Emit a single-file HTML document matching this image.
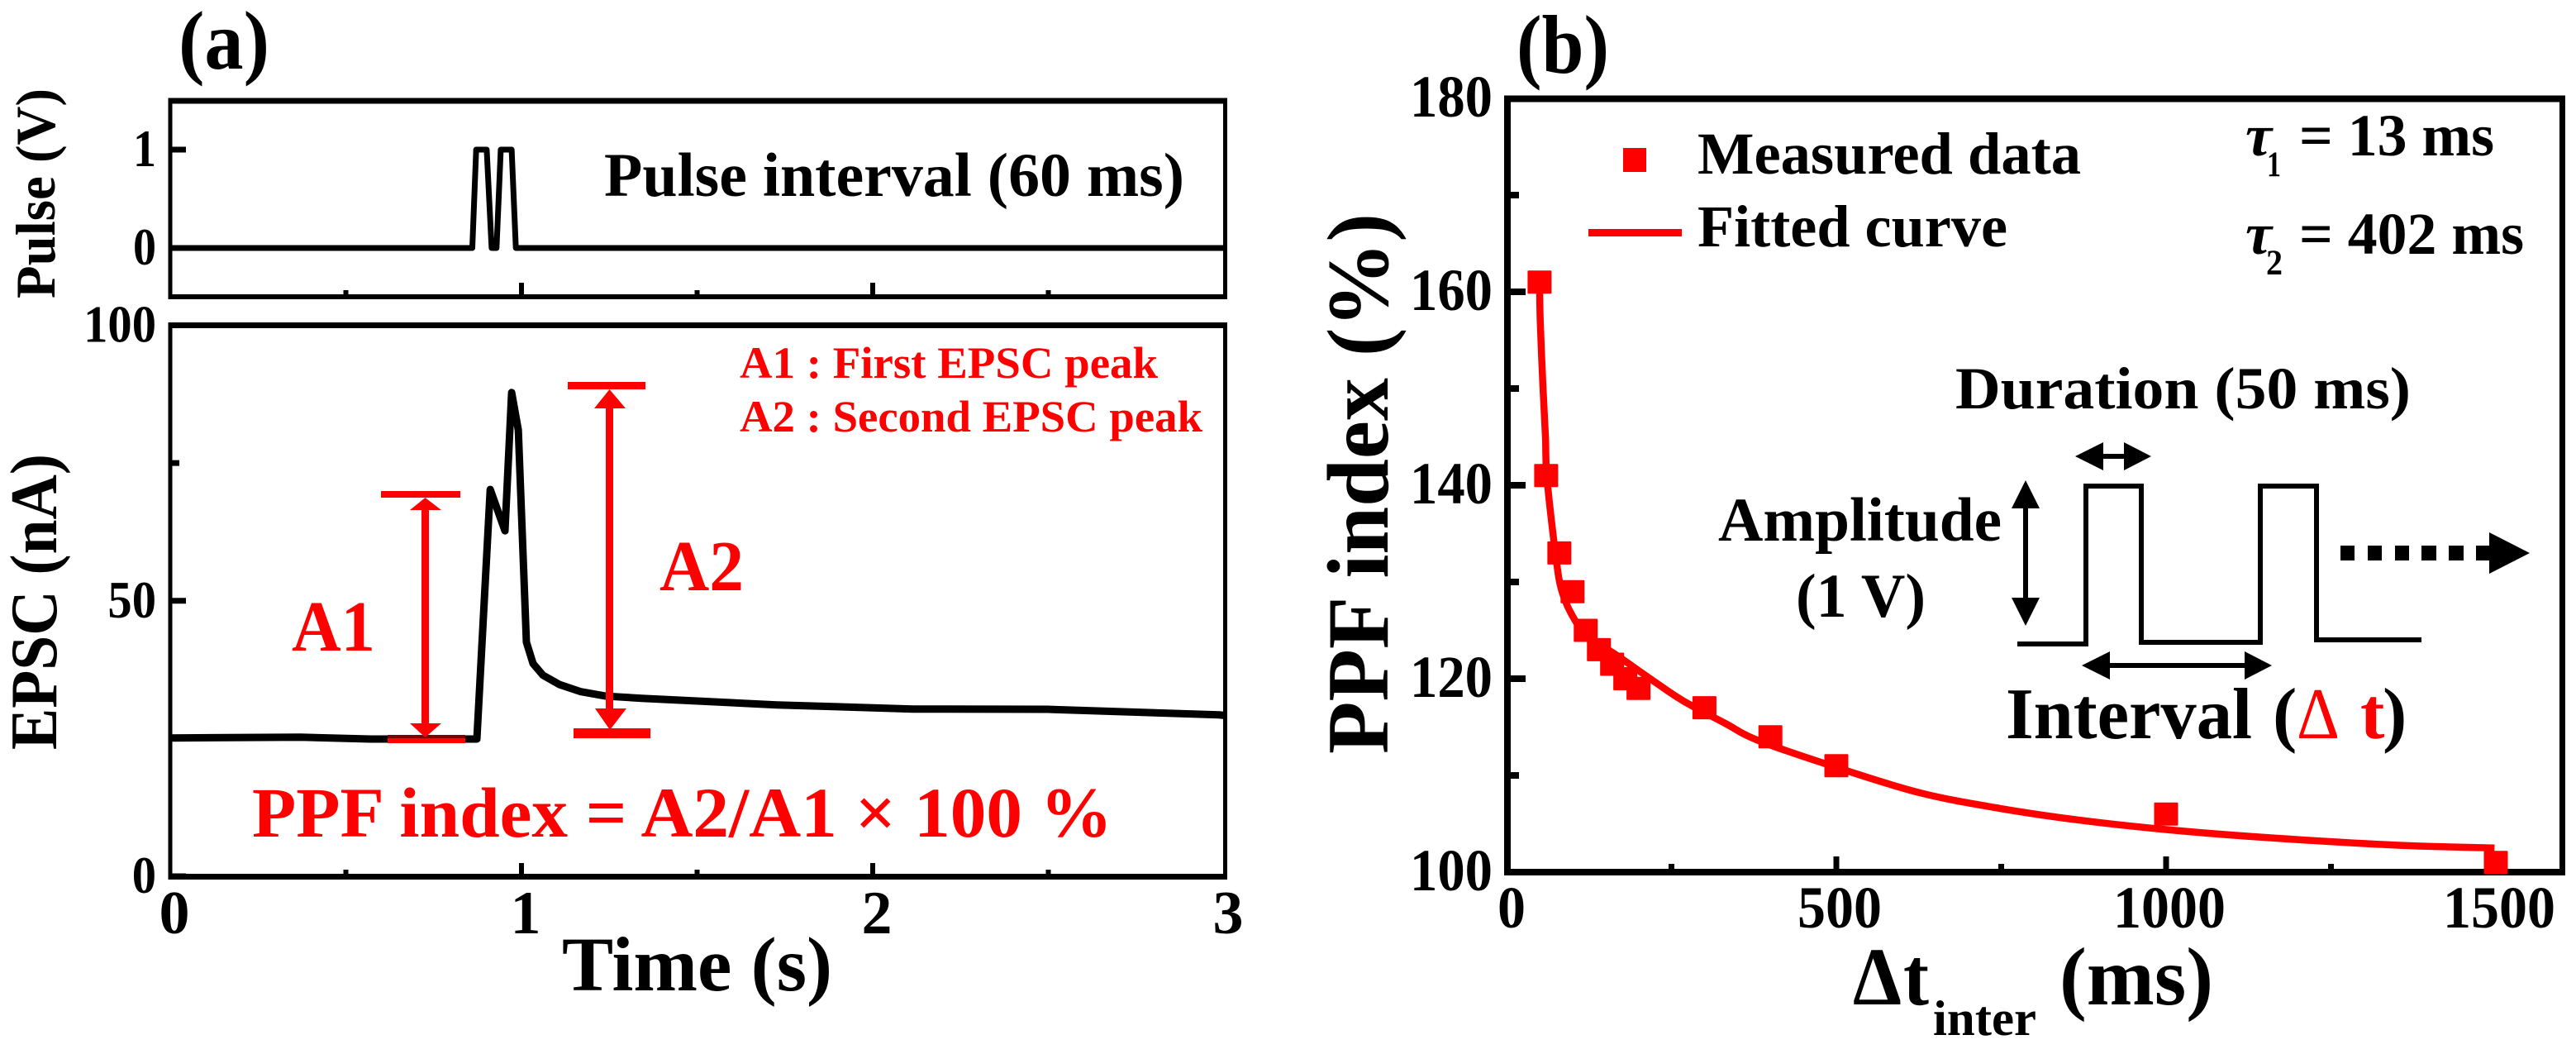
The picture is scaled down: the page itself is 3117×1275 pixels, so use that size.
<!DOCTYPE html>
<html lang="en">
<head>
<meta charset="utf-8">
<title>EPSC and PPF index chart</title>
<style>
html,body{margin:0;padding:0;background:#fff;}
svg{display:block;}
text{font-family:"Liberation Serif","DejaVu Serif",serif;font-weight:bold;fill:#000;}
.red{fill:#f00;}
</style>
</head>
<body>
<svg id="fig" xmlns="http://www.w3.org/2000/svg" width="3117" height="1275" viewBox="0 0 3117 1275">
  <rect x="0" y="0" width="3117" height="1275" fill="#fff"/>

  <text x="216" y="83" font-size="101" textLength="110" lengthAdjust="spacingAndGlyphs">(a)</text>
  <text x="1835" y="88" font-size="101" textLength="112" lengthAdjust="spacingAndGlyphs">(b)</text>

  <g id="panelA"></g>
  <g id="panelB"></g>

  <text transform="translate(66,361) rotate(-90)" font-size="68" textLength="254" lengthAdjust="spacingAndGlyphs">Pulse (V)</text>
  <text transform="translate(68,907) rotate(-90)" font-size="80" textLength="358" lengthAdjust="spacingAndGlyphs">EPSC (nA)</text>
  <text x="680" y="1198" font-size="93" textLength="327" lengthAdjust="spacingAndGlyphs">Time (s)</text>
  <text x="731" y="237" font-size="75" textLength="702" lengthAdjust="spacingAndGlyphs">Pulse interval (60 ms)</text>
  <text class="red" x="895" y="457" font-size="54" textLength="506" lengthAdjust="spacingAndGlyphs">A1 : First EPSC peak</text>
  <text class="red" x="895" y="522" font-size="54" textLength="560" lengthAdjust="spacingAndGlyphs">A2 : Second EPSC peak</text>
  <text class="red" x="353" y="787" font-size="87" textLength="101" lengthAdjust="spacingAndGlyphs">A1</text>
  <text class="red" x="798" y="714" font-size="87" textLength="102" lengthAdjust="spacingAndGlyphs">A2</text>
  <text class="red" x="305" y="1012" font-size="86" textLength="1041" lengthAdjust="spacingAndGlyphs">PPF index = A2/A1 × 100 %</text>

  <g fill="#f00">
    <rect x="461" y="594" width="96" height="8"/>
    <rect x="469" y="889" width="94" height="10"/>
    <rect x="469" y="889" width="94" height="4" fill="#800000"/>
    <rect x="510" y="610" width="9" height="272"/>
    <polygon points="514.5,602 534,617 496,617"/>
    <polygon points="514.5,892 534,875 496,875"/>
  </g>
  <g fill="#f00">
    <rect x="687" y="462" width="94" height="9"/>
    <rect x="694" y="881" width="93" height="12"/>
    <rect x="733" y="485" width="9" height="385"/>
    <polygon points="737.5,471 757,494 719,494"/>
    <polygon points="738,883 758,857 720,857"/>
  </g>

  <text transform="translate(1679,912) rotate(-90)" font-size="106" textLength="654" lengthAdjust="spacingAndGlyphs">PPF index (%)</text>
  <text x="2242" y="1215" font-size="100" textLength="59" lengthAdjust="spacingAndGlyphs">Δ</text>
  <text x="2303" y="1215" font-size="100" textLength="31" lengthAdjust="spacingAndGlyphs">t</text>
  <text x="2339" y="1252" font-size="60" textLength="125" lengthAdjust="spacingAndGlyphs">inter</text>
  <text x="2492" y="1215" font-size="100" textLength="186" lengthAdjust="spacingAndGlyphs">(ms)</text>

  <g>
    <rect x="1964" y="179" width="28" height="29" fill="#f00"/>
    <text x="2054" y="210" font-size="72" textLength="464" lengthAdjust="spacingAndGlyphs">Measured data</text>
    <rect x="1922" y="277" width="113" height="9" fill="#f00"/>
    <text x="2054" y="298" font-size="72" textLength="375" lengthAdjust="spacingAndGlyphs">Fitted curve</text>
  </g>

  <g>
    <text x="2717" y="188" font-size="72" font-style="italic" textLength="32" lengthAdjust="spacingAndGlyphs">τ</text>
    <text x="2743" y="213" font-size="43" textLength="17" lengthAdjust="spacingAndGlyphs">1</text>
    <text x="2782" y="188" font-size="72" textLength="236" lengthAdjust="spacingAndGlyphs">= 13 ms</text>
  </g>
  <g>
    <text x="2717" y="307" font-size="72" font-style="italic" textLength="32" lengthAdjust="spacingAndGlyphs">τ</text>
    <text x="2742" y="332" font-size="43" textLength="20" lengthAdjust="spacingAndGlyphs">2</text>
    <text x="2782" y="307" font-size="72" textLength="272" lengthAdjust="spacingAndGlyphs">= 402 ms</text>
  </g>

  <g>
    <text x="2366" y="494" font-size="72" textLength="551" lengthAdjust="spacingAndGlyphs">Duration (50 ms)</text>
    <polygon points="2511,552 2545,535 2545,549 2570,549 2570,535 2603,552 2570,569 2570,555 2545,555 2545,569"/>
    <text x="2079" y="654" font-size="75" textLength="343" lengthAdjust="spacingAndGlyphs">Amplitude</text>
    <text x="2173" y="746" font-size="75" textLength="157" lengthAdjust="spacingAndGlyphs">(1 V)</text>
    <polygon points="2451,581 2468,615 2454,615 2454,723 2468,723 2451,757 2434,723 2448,723 2448,615 2434,615"/>
    <polyline points="2441,779 2524,779 2524,588 2591,588 2591,777 2735,777 2735,588 2803,588 2803,774 2930,774" fill="none" stroke="#000" stroke-width="6"/>
    <polygon points="2519,805 2553,788 2553,802 2716,802 2716,788 2749,805 2716,822 2716,808 2553,808 2553,822"/>
    <text x="2427" y="893" font-size="88" textLength="298" lengthAdjust="spacingAndGlyphs">Interval</text>
    <text x="2750" y="893" font-size="88">(</text>
    <text class="red" x="2779" y="893" font-size="88" style="font-weight:normal" textLength="52" lengthAdjust="spacingAndGlyphs">Δ</text>
    <text class="red" x="2856" y="893" font-size="88">t</text>
    <text x="2883" y="893" font-size="88">)</text>
    <g>
      <rect x="2832" y="660" width="17" height="18"/>
      <rect x="2865" y="660" width="17" height="18"/>
      <rect x="2898" y="660" width="17" height="18"/>
      <rect x="2930" y="660" width="18" height="18"/>
      <rect x="2963" y="660" width="18" height="18"/>
      <rect x="2996" y="660" width="17" height="18"/>
      <polygon points="3012,644 3061,669 3012,694"/>
    </g>
  </g>
</svg>
<script>
// Panel (a) data
const pulseTimes = [0, 0.860, 0.871, 0.901, 0.915, 0.929, 0.941, 0.972, 0.984, 3];
const pulseVolts = [0, 0, 1, 1, 0, 0, 1, 1, 0, 0];
const epscTimes = [0, 0.37, 0.57, 0.873, 0.911, 0.953, 0.972, 0.991, 1.014, 1.033, 1.061, 1.108, 1.169, 1.24, 1.342, 1.727, 2.115, 2.5, 2.986, 3];
const epscValues = [25.1, 25.25, 24.9, 24.9, 70.2, 62.7, 87.8, 81, 42.5, 38.6, 36.5, 34.8, 33.5, 32.7, 32.3, 31.1, 30.35, 30.3, 29.3, 29.2];
const timeMajorTicks = [0, 1, 2, 3];
const timeMinorTicks = [0.5, 1.5, 2.5];
const pulseTickLabels = [0, 1];
const epscTickLabels = [0, 50, 100];
const epscMinorTicks = [75];

// Panel (b) data
const intervalsMs = [50, 60, 80, 100, 120, 140, 160, 180, 200, 300, 400, 500, 1000, 1500];
const ppfMeasured = [161, 141, 133, 129, 125, 123, 121.5, 120, 119, 117, 114, 111, 106, 101];
const fitTimes = [50, 51, 55, 59, 61, 74, 84, 105, 130, 163, 222, 268, 331, 382, 497, 627, 747, 866, 1000, 1147, 1346, 1498];
const fitValues = [161, 157, 150.4, 144.9, 140.9, 133, 129, 125.9, 124, 122.6, 119.8, 117.7, 115.4, 113.6, 110.9, 108.2, 106.6, 105.4, 104.4, 103.6, 102.8, 102.5];
const ppfYMajorTicks = [100, 120, 140, 160, 180];
const ppfYMinorTicks = [110, 130, 150, 170];
const ppfXMajorTicks = [0, 500, 1000, 1500];
const ppfXMinorTicks = [250, 750, 1250];

// Axis functions
const xTime = t => 206 + t * 425;
const yPulse = v => 300 - v * 119;
const yEpsc = v => 1060 - v * 6.665;
const xInt = t => 1823 + t * 0.798;
const yPpf = v => 1055 - (v - 100) * 11.7;

const NS = 'http://www.w3.org/2000/svg';
const panelA = document.getElementById('panelA');
const panelB = document.getElementById('panelB');

function mk(parent, tag, attrs, content) {
  const n = document.createElementNS(NS, tag);
  for (const k in attrs) n.setAttribute(k, attrs[k]);
  if (content !== undefined) n.textContent = content;
  parent.appendChild(n);
  return n;
}
function rect(parent, x, y, w, h, fill) {
  return mk(parent, 'rect', {x: x, y: y, width: w, height: h, fill: fill || '#000'});
}
// Smooth path (Catmull-Rom) through the given pixel points
function smoothPath(px, py) {
  let d = 'M' + px[0] + ' ' + py[0];
  for (let i = 0; i < px.length - 1; i++) {
    const i0 = Math.max(i - 1, 0), i3 = Math.min(i + 2, px.length - 1);
    const c1x = px[i] + (px[i + 1] - px[i0]) / 6;
    const c1y = py[i] + (py[i + 1] - py[i0]) / 6;
    const c2x = px[i + 1] - (px[i3] - px[i]) / 6;
    const c2y = py[i + 1] - (py[i3] - py[i]) / 6;
    d += ' C' + c1x + ' ' + c1y + ' ' + c2x + ' ' + c2y + ' ' + px[i + 1] + ' ' + py[i + 1];
  }
  return d;
}

// --- Panel (a), pulse frame ---
let el;
el = rect(panelA, 203.5, 118.5, 5, 243);


el = rect(panelA, 1480, 118.5, 5, 243);


el = rect(panelA, 203.5, 118.5, 1281.5, 7);


el = rect(panelA, 203.5, 356, 1281.5, 6);



// --- Panel (a), EPSC frame ---
el = rect(panelA, 203.5, 390, 5, 674);


el = rect(panelA, 1480, 390, 5, 674);


el = rect(panelA, 203.5, 390, 1281.5, 7);


el = rect(panelA, 203.5, 1057, 1281.5, 7);



// Time ticks on both frames
timeMajorTicks.slice(1, -1).forEach(t => {
  const a = rect(panelA, xTime(t) - 3, 342, 6, 16);
  
  
  const b = rect(panelA, xTime(t) - 3, 1044, 6, 15);
  
  
});
timeMinorTicks.forEach(t => {
  const a = rect(panelA, xTime(t) - 3, 351, 6, 8);
  
  
  const b = rect(panelA, xTime(t) - 3, 1052, 6, 8);
  
  
});

// Time tick labels
timeMajorTicks.forEach(t => {
  const l = mk(panelA, 'text', {x: xTime(t) + 5, y: 1129, 'font-size': 74, 'text-anchor': 'middle'}, String(t));
  
  
});

// Pulse y ticks
pulseTickLabels.forEach(v => {
  const t = rect(panelA, 206, yPulse(v) - 3.5, 19, 7);
  
  
  const l = mk(panelA, 'text', {x: 189, y: yPulse(v) + 20, 'font-size': 64, 'text-anchor': 'end', textLength: 28, lengthAdjust: 'spacingAndGlyphs'}, String(v));
  
  
});

// EPSC y ticks
epscTickLabels.forEach(v => {
  const t = rect(panelA, 206, yEpsc(v) - 3.5, 19, 7);
  
  
  const s = String(v);
  const l = mk(panelA, 'text', {x: 189, y: yEpsc(v) + 20, 'font-size': 64, 'text-anchor': 'end', textLength: s.length * 29.3, lengthAdjust: 'spacingAndGlyphs'}, s);
  
  
});
epscMinorTicks.forEach(v => {
  const t = rect(panelA, 206, yEpsc(v) - 3.5, 11, 7);
  
  
});

// Pulse series
const pulseLine = mk(panelA, 'polyline', {
  points: pulseTimes.map((t, i) => xTime(t) + ',' + yPulse(pulseVolts[i])).join(' '),
  fill: 'none', stroke: '#000', 'stroke-width': 7, 'stroke-linejoin': 'round'
});



// EPSC series
const epscLine = mk(panelA, 'polyline', {
  points: epscTimes.map((t, i) => xTime(t) + ',' + yEpsc(epscValues[i])).join(' '),
  fill: 'none', stroke: '#000', 'stroke-width': 9, 'stroke-linejoin': 'round'
});



// --- Panel (b), frame ---
el = rect(panelB, 1820, 115.5, 8, 943.5);


el = rect(panelB, 3097, 115.5, 7, 943.5);


el = rect(panelB, 1820, 115.5, 1284, 8);


el = rect(panelB, 1820, 1051, 1284, 8);



// Panel (b) y ticks
ppfYMajorTicks.forEach(v => {
  if (v !== 100 && v !== 180) {
    const t = rect(panelB, 1824, yPpf(v) - 4, 22, 8);
    
    
  }
  const l = mk(panelB, 'text', {x: 1806, y: yPpf(v) + 22, 'font-size': 72, 'text-anchor': 'end', textLength: 100, lengthAdjust: 'spacingAndGlyphs'}, String(v));
  
  
});
ppfYMinorTicks.forEach(v => {
  const t = rect(panelB, 1824, yPpf(v) - 4, 14, 8);
  
  
});

// Panel (b) x ticks
ppfXMajorTicks.forEach(v => {
  if (v !== 0) {
    const t = rect(panelB, xInt(v) - 3.5, 1036, 7, 16);
    
    
  }
  const s = String(v);
  const l = mk(panelB, 'text', {x: xInt(v) + (s.length === 1 ? 6 : 4), y: 1122, 'font-size': 72, 'text-anchor': 'middle', textLength: s.length * 34, lengthAdjust: 'spacingAndGlyphs'}, s);
  
  
});
ppfXMinorTicks.forEach(v => {
  const t = rect(panelB, xInt(v) - 3.5, 1045, 7, 7);
  
  
});

// Fitted curve
const fitLine = mk(panelB, 'path', {
  d: smoothPath(fitTimes.map(xInt), fitValues.map(yPpf)),
  fill: 'none', stroke: '#f00', 'stroke-width': 8.5, 'stroke-linejoin': 'round'
});



// Measured markers
intervalsMs.forEach((t, i) => {
  const m = mk(panelB, 'rect', {x: xInt(t) - 14.5, y: yPpf(ppfMeasured[i]) - 14, width: 29, height: 28, rx: 1, fill: '#f00'});
  
  
});
</script>
</body>
</html>
